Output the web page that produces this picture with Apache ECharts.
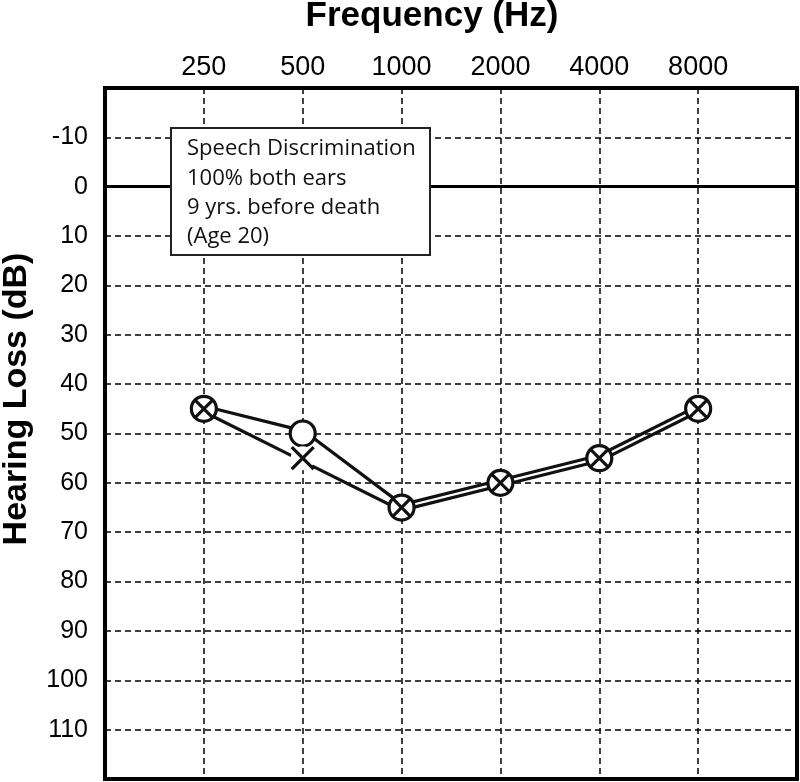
<!DOCTYPE html>
<html><head><meta charset="utf-8">
<script src="https://cdn.jsdelivr.net/npm/echarts@6/dist/echarts.min.js"></script>
<style>html,body{margin:0;padding:0;background:#fff}#c{width:800px;height:782px}</style>
</head><body><div id="c"></div>
<script>
// ---- data ----
const freqCategories = ['125','250','500','1000','2000','4000','8000','16000'];
const testFreqs = ['250','500','1000','2000','4000','8000'];
const rightEarO = [45, 50, 65, 60, 55, 45];
const leftEarX  = [45, 55, 65, 60, 55, 45];
const yMin = -20, yMax = 120, yStep = 10;
const noteLines = ['Speech Discrimination', '100% both ears', '9 yrs. before death', '(Age 20)'];
const xTitle = 'Frequency (Hz)';
const yTitle = 'Hearing Loss (dB)';

const chart = echarts.init(document.getElementById('c'), null, {renderer: 'canvas'});
const toData = arr => testFreqs.map((f, i) => [freqCategories.indexOf(f), arr[i]]);
const oData = toData(rightEarO);
const xData = toData(leftEarX);
const INK = '#111';
const SANS = '"Liberation Sans", Arial, Helvetica, sans-serif';

function lineRender(data, sign) {
  return function (params, api) {
    const i = params.dataIndex;
    if (i === 0) return null;
    const p0 = api.coord(data[i - 1]);
    const p1 = api.coord([api.value(0), api.value(1)]);
    const dx = p1[0] - p0[0], dy = p1[1] - p0[1], len = Math.hypot(dx, dy) || 1;
    const nx = -dy / len * sign * 2.7, ny = dx / len * sign * 2.7;
    return {type: 'line', shape: {x1: p0[0] + nx, y1: p0[1] + ny, x2: p1[0] + nx, y2: p1[1] + ny},
      style: {stroke: INK, lineWidth: 3.2, lineCap: 'butt'}};
  };
}
function oRender(params, api) {
  const p = api.coord([api.value(0), api.value(1)]);
  return {type: 'circle', shape: {cx: p[0], cy: p[1], r: 12.5}, style: {fill: '#fff', stroke: INK, lineWidth: 3.2}};
}
function xRender(params, api) {
  const i = params.dataIndex;
  const p = api.coord([api.value(0), api.value(1)]);
  const inside = rightEarO[i] === leftEarX[i];
  const h = inside ? 8.8 : 11;
  const children = [];
  if (!inside) children.push({type: 'circle', shape: {cx: p[0], cy: p[1], r: 12}, style: {fill: '#fff'}});
  children.push({type: 'line', shape: {x1: p[0] - h, y1: p[1] - h, x2: p[0] + h, y2: p[1] + h}, style: {stroke: INK, lineWidth: 3.2}});
  children.push({type: 'line', shape: {x1: p[0] - h, y1: p[1] + h, x2: p[0] + h, y2: p[1] - h}, style: {stroke: INK, lineWidth: 3.2}});
  return {type: 'group', children};
}

const option = {
  backgroundColor: '#fff',
  animation: false,
  grid: {left: 105, right: 3, top: 88, bottom: 3, show: true, borderColor: '#000', borderWidth: 4, backgroundColor: 'transparent'},
  xAxis: {
    type: 'category', data: freqCategories, boundaryGap: false, position: 'top',
    axisLine: {show: false}, axisTick: {show: false},
    axisLabel: {show: true, interval: 0, margin: 7, fontSize: 27, color: '#000', fontFamily: SANS,
      formatter: v => testFreqs.includes(v) ? v : ''},
    splitLine: {show: true, lineStyle: {color: '#000', width: 1.5, type: [6, 4]}}
  },
  yAxis: {
    type: 'value', inverse: true, min: yMin, max: yMax, interval: yStep,
    axisLine: {show: false}, axisTick: {show: false},
    axisLabel: {margin: 17, fontSize: 25, color: '#000', fontFamily: SANS,
      formatter: v => (v === yMin || v === yMax) ? '' : String(v)},
    splitLine: {show: true, lineStyle: {color: '#000', width: 1.5, type: [6, 4]}}
  },
  graphic: [
    {type: 'text', x: 432, y: 16, zlevel: 1,
      style: {text: xTitle, font: 'bold 35px ' + SANS, fill: '#000', align: 'center', verticalAlign: 'middle', textAlign: 'center', textVerticalAlign: 'middle'}},
    {type: 'text', x: 17, y: 399, rotation: Math.PI / 2, zlevel: 1,
      style: {text: yTitle, font: 'bold 34px ' + SANS, fill: '#000', align: 'center', verticalAlign: 'middle', textAlign: 'center', textVerticalAlign: 'middle'}},
    {type: 'rect', zlevel: 1, shape: {x: 171, y: 128, width: 259, height: 127}, style: {fill: '#fff', stroke: '#222', lineWidth: 2}},
    {type: 'text', zlevel: 1, x: 187, y: 134.5,
      style: {text: noteLines.join('\n'), font: '22px "Open Sans", "Noto Sans", sans-serif', lineHeight: 29.3, fill: '#111',
        align: 'left', verticalAlign: 'top', textAlign: 'left', textVerticalAlign: 'top'}}
  ],
  series: [
    {type: 'custom', name: 'O line', z: 3, data: oData, renderItem: lineRender(oData, -1),
      markLine: {silent: true, symbol: 'none', label: {show: false}, z: 2,
        lineStyle: {type: 'solid', color: '#000', width: 3}, data: [{yAxis: 0}]}},
    {type: 'custom', name: 'X line', z: 3, data: xData, renderItem: lineRender(xData, 1)},
    {type: 'custom', name: 'Right ear (O)', z: 4, data: oData, renderItem: oRender},
    {type: 'custom', name: 'Left ear (X)', z: 5, data: xData, renderItem: xRender}
  ]
};
chart.setOption(option);
</script></body></html>
